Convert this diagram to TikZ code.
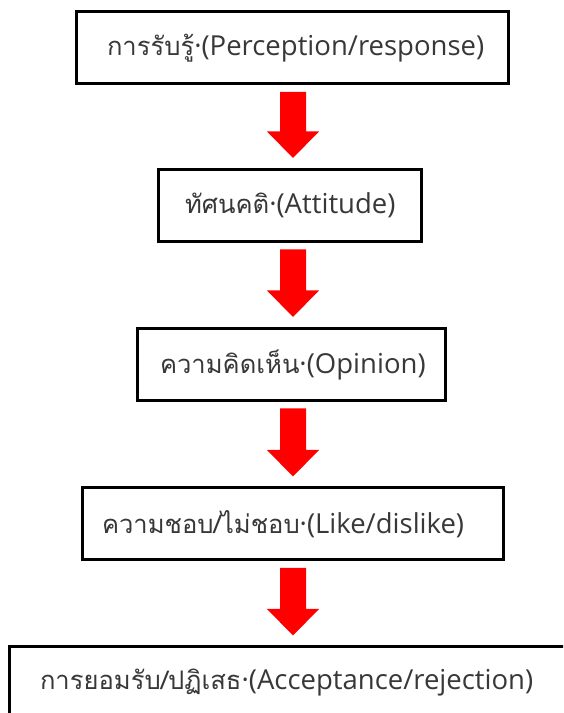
\documentclass[tikz,border=0pt]{standalone}
\usepackage{fontspec}
\setmainfont{Open Sans}
\newfontfamily\thai[Script=Thai,Scale=0.93]{Loma}
\usetikzlibrary{calc}
\tikzset{
  box/.style={draw=black, line width=3pt, fill=white, inner sep=0pt,
    minimum height=72pt, text=black!78, font=\fontsize{27.5}{32}\selectfont,
    align=left},
  redtip/.style={fill=red, draw=none}
}
\newcommand\redarrow[2]{%
  \coordinate (s) at ([yshift=-6.5pt]#1.south -| X);
  \coordinate (t) at ([yshift=10pt]#2.north -| X);
  \fill[redtip] ([xshift=-13pt]s) -- ([xshift=13pt]s) -- ([xshift=13pt,yshift=26.5pt]t)
    -- ([xshift=26pt,yshift=26.5pt]t) -- (t) -- ([xshift=-26pt,yshift=26.5pt]t)
    -- ([xshift=-13pt,yshift=26.5pt]t) -- cycle;
}
\begin{document}
\begin{tikzpicture}[x=1pt,y=1pt]
\useasboundingbox (0,0) rectangle (563,713);
\clip (0,0) rectangle (563,713);
\fill[white] (0,0) rectangle (563,713);
\coordinate (X) at (293,0);
\node[box, minimum width=432pt, text width=370pt] (b1) at (292,665) {{\thai การรับรู้}·(Perception/response)};
\node[box, minimum width=263pt, text width=209pt] (b2) at (289.5,507.5) {{\thai ทัศนคติ}·(Attitude)};
\node[box, minimum width=308pt, text width=262pt] (b3) at (291,348.5) {{\thai ความคิดเห็น}·(Opinion)};
\node[box, minimum width=421pt, text width=381pt] (b4) at (292.5,189) {{\thai ความชอบ/ไม่ชอบ}·(Like/dislike)};
\node[box, minimum width=566pt, text width=504pt] (b5) at (292,30) {{\thai การยอมรับ/ปฏิเสธ}·(Acceptance/rejection)};
\redarrow{b1}{b2}
\redarrow{b2}{b3}
\redarrow{b3}{b4}
\redarrow{b4}{b5}
\end{tikzpicture}
\end{document}
